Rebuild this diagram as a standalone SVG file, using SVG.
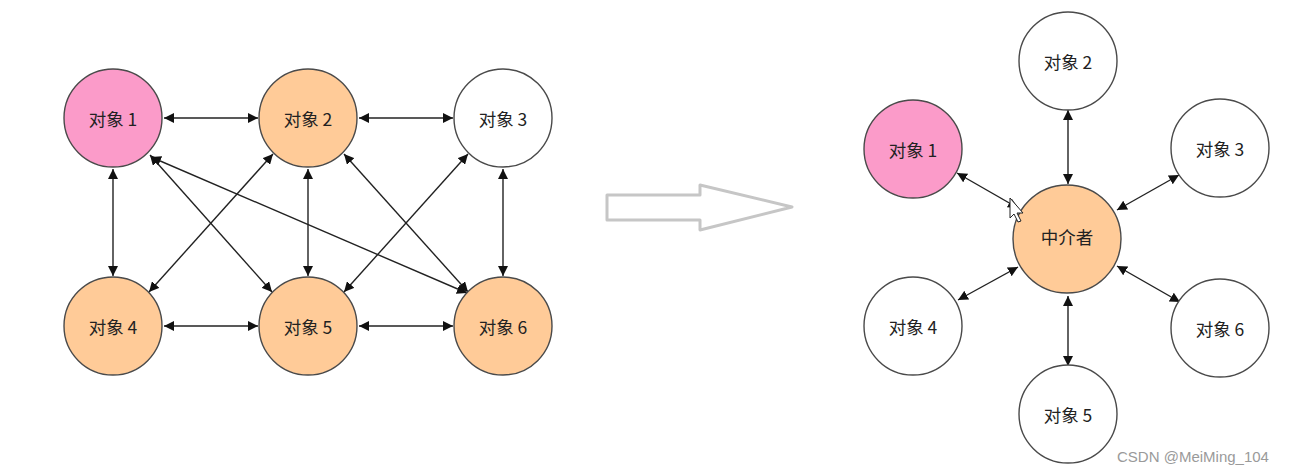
<svg xmlns="http://www.w3.org/2000/svg" width="1296" height="475" viewBox="0 0 1296 475">
<defs>
<marker id="ah" viewBox="0 0 10 10" refX="10" refY="5" markerWidth="10" markerHeight="10" markerUnits="userSpaceOnUse" orient="auto-start-reverse">
<path d="M0,0 L10,5 L0,10 z" fill="#111"/>
</marker>
<style>
.n{stroke:#4a4a4a;stroke-width:1.4}
.pink{fill:#fb9bc9}
.org{fill:#ffcb98}
.wht{fill:#ffffff}
.t{font-family:"Noto Sans CJK SC","Noto Sans",sans-serif;font-size:17.5px;fill:#222;text-anchor:middle;dominant-baseline:central}
.c line{stroke:#222;stroke-width:1.4;marker-start:url(#ah);marker-end:url(#ah)}
</style>
</defs>
<rect width="1296" height="475" fill="#ffffff"/>
<g class="c" id="connectors">
<line x1="164" y1="118" x2="258" y2="118"/>
<line x1="359" y1="118" x2="453" y2="118"/>
<line x1="113" y1="169" x2="113" y2="276"/>
<line x1="308" y1="169" x2="308" y2="276"/>
<line x1="503" y1="169" x2="503" y2="276"/>
<line x1="164" y1="326" x2="258" y2="326"/>
<line x1="359" y1="326" x2="453" y2="326"/>
<line x1="150" y1="155" x2="272" y2="292"/>
<line x1="151" y1="157" x2="467" y2="293"/>
<line x1="273" y1="154" x2="149" y2="292"/>
<line x1="344" y1="154" x2="468" y2="292"/>
<line x1="468" y1="154" x2="344" y2="292"/>
<line x1="1068" y1="110" x2="1068" y2="184"/>
<line x1="957" y1="173" x2="1018" y2="208"/>
<line x1="1117" y1="210" x2="1179" y2="175"/>
<line x1="1018" y1="267" x2="958" y2="300"/>
<line x1="1117" y1="266" x2="1180" y2="302"/>
<line x1="1068" y1="296" x2="1068" y2="366"/>
</g>
<g id="o1"><circle class="n pink" cx="113" cy="118" r="49"/><text class="t" x="113" y="118">对象 1</text></g>
<g id="o2"><circle class="n org" cx="308" cy="118" r="49"/><text class="t" x="308" y="118">对象 2</text></g>
<g id="o3"><circle class="n wht" cx="503" cy="118" r="49"/><text class="t" x="503" y="118">对象 3</text></g>
<g id="o4"><circle class="n org" cx="113" cy="326" r="49"/><text class="t" x="113" y="326">对象 4</text></g>
<g id="o5"><circle class="n org" cx="308" cy="326" r="49"/><text class="t" x="308" y="326">对象 5</text></g>
<g id="o6"><circle class="n org" cx="503" cy="326" r="49"/><text class="t" x="503" y="326">对象 6</text></g>
<g id="bigarrow"><polygon points="607,195 700,195 700,185 792,207 700,230 700,220 607,220" fill="#ffffff" stroke="#c6c6c6" stroke-width="3" stroke-linejoin="round"/></g>
<g id="m"><circle class="n org" cx="1067" cy="239" r="54"/><text class="t" x="1067" y="236">中介者</text></g>
<g id="r1"><circle class="n pink" cx="913" cy="149" r="49"/><text class="t" x="913" y="149">对象 1</text></g>
<g id="r2"><circle class="n wht" cx="1068" cy="61" r="49"/><text class="t" x="1068" y="61">对象 2</text></g>
<g id="r3"><circle class="n wht" cx="1220" cy="148" r="49"/><text class="t" x="1220" y="148">对象 3</text></g>
<g id="r4"><circle class="n wht" cx="913" cy="326" r="49"/><text class="t" x="913" y="326">对象 4</text></g>
<g id="r5"><circle class="n wht" cx="1068" cy="414" r="49"/><text class="t" x="1068" y="414">对象 5</text></g>
<g id="r6"><circle class="n wht" cx="1220" cy="328" r="49"/><text class="t" x="1220" y="328">对象 6</text></g>
<g id="cursor"><polygon points="1010,198 1010,218 1014,214 1018,222 1021,221 1017,213 1023,213" fill="#ffffff" stroke="#222" stroke-width="1"/></g>
<text x="1117" y="462" font-family="'Liberation Sans',Arial,sans-serif" font-size="15" fill="#9a9a9a">CSDN @MeiMing_104</text>
</svg>
